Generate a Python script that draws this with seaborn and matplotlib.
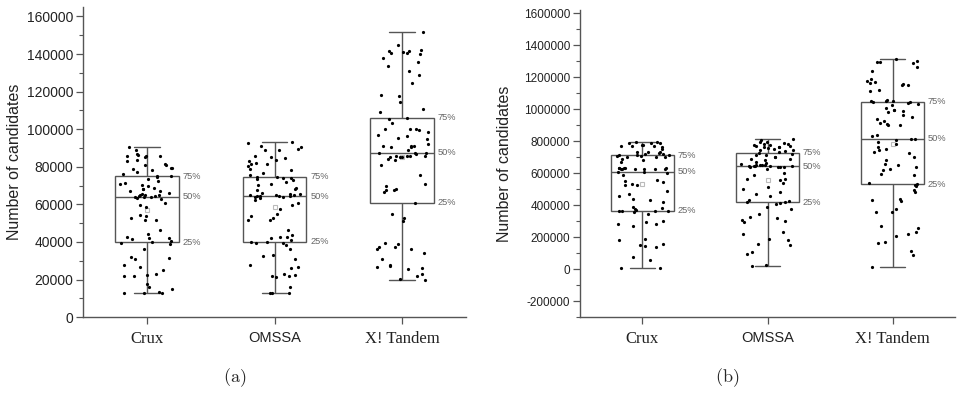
import numpy as np
import pandas as pd
import matplotlib
matplotlib.use("Agg")
import matplotlib.pyplot as plt
from matplotlib.ticker import MultipleLocator, AutoMinorLocator, FormatStrFormatter
import seaborn as sns

TOOLS = ["Crux", "OMSSA", "X! Tandem"]

# (a) number of candidates per data set
crux_a = [12900, 13000, 13100, 13300, 15100, 15800, 17500, 21800, 22000, 22300,
          22700, 25300, 26800, 28000, 30700, 31500, 32100, 36100, 38800, 39600,
          39900,
          40300, 41500, 42000, 42300, 42600, 44500, 46200, 51600, 51700, 52600,
          53700, 54600, 58700, 59900, 61000, 62700, 63400, 63900, 64000,
          64200,
          64500, 64700, 64800, 65000, 65200, 65300, 66300, 67000, 67200, 68200,
          68400, 68800, 69600, 70200, 71000, 71200, 72300, 73500, 74600,
          75000,
          75300, 76000, 77100, 78100, 79000, 79300, 79600, 80800, 81000, 81700,
          83100, 83800, 85200, 85500, 85700, 85900, 86100, 87000, 89100, 90800]

omssa_a = [12900, 13000, 13100, 15800, 21400, 21900, 22100, 22300, 23200, 25900,
           26800, 27500, 30700, 32600, 33000, 36000, 38500, 39500, 39700, 39900,
           40200,
           41300, 42200, 42400, 42700, 43900, 46200, 51500, 51700, 52800, 53700,
           55100, 57600, 59500, 61000, 62500, 63600, 64000, 64100, 64300,
           64400,
           64600, 64700, 64800, 65000, 65200, 65300, 65700, 66100, 67500, 68300,
           68500, 70400, 70600, 71900, 72800, 73500, 74000, 74200, 74500,
           74800,
           75700, 76900, 78100, 79000, 80300, 81500, 81700, 81900, 83100, 83800,
           84700, 85200, 86000, 88900, 89100, 89500, 90500, 91000, 92500, 93400]

tandem_a = [20000, 20200, 21800, 22900, 25700, 25900, 26800, 27000, 27600, 31000,
            34200, 36100, 36300, 37300, 37500, 38800, 39700, 51000, 52500, 55100,
            60800,
            66600, 67400, 67600, 68400, 69800, 71100, 75500, 80800, 83700, 83900,
            85100, 85200, 85300, 85600, 85800, 85900, 86000, 87000, 87200,
            87400,
            87600, 88800, 90500, 90800, 90900, 91000, 91100, 92300, 95000, 95500,
            96200, 96800, 98500, 99600, 99900, 100100, 100300, 103300, 105500,
            106000,
            109000, 110600, 114500, 117700, 118400, 124600, 128600, 130800, 133400, 135700,
            138000, 140200, 140300, 140800, 141100, 141400, 141600, 142300, 144600, 152000]

# (b)
crux_b = [8000, 9500, 60000, 73000, 137000, 145000, 148000, 154000, 181000, 189000,
          272000, 279000, 283000, 295000, 301000, 347000, 360000, 362000, 364000, 365000,
          366000,
          372000, 378000, 380000, 389000, 422000, 430000, 440000, 455000, 472000, 486000,
          524000, 526000, 530000, 544000, 550000, 556000, 586000, 600000, 604000,
          607000,
          624000, 625000, 626000, 627000, 628000, 628000, 629000, 630000, 631000, 632000,
          634000, 667000, 680000, 688000, 698000, 700000, 702000, 708000, 709000,
          711000,
          712000, 716000, 718000, 721000, 728000, 729000, 730000, 731000, 752000, 762000,
          768000, 770000, 772000, 776000, 778000, 785000, 787000, 789000, 794000, 796000]

omssa_b = [21000, 23000, 94000, 104000, 150000, 160000, 185000, 191000, 222000, 229000,
           295000, 301000, 304000, 320000, 324000, 347000, 378000, 390000, 409000, 416000,
           418000,
           422000, 424000, 430000, 455000, 472000, 482000, 500000, 513000, 538000, 555000,
           561000, 563000, 586000, 600000, 628000, 636000, 638000, 640000, 641000,
           642000,
           643000, 645000, 646000, 647000, 648000, 649000, 650000, 652000, 659000, 661000,
           669000, 680000, 688000, 690000, 700000, 702000, 710000, 715000, 717000,
           727000,
           729000, 738000, 744000, 746000, 752000, 754000, 763000, 764000, 765000, 767000,
           772000, 773000, 775000, 779000, 780000, 788000, 794000, 796000, 805000, 810000]

tandem_b = [14500, 87000, 114000, 165000, 167000, 206000, 218000, 229000, 254000, 268000,
            356000, 358000, 378000, 428000, 432000, 440000, 482000, 497000, 519000, 526000,
            530000,
            538000, 586000, 596000, 617000, 628000, 638000, 648000, 659000, 680000, 700000,
            725000, 731000, 746000, 752000, 763000, 783000, 794000, 805000, 812000,
            815000,
            834000, 836000, 899000, 901000, 908000, 912000, 925000, 935000, 950000, 966000,
            981000, 990000, 992000, 997000, 1006000, 1027000, 1033000, 1040000, 1045000,
            1047000,
            1049000, 1051000, 1053000, 1055000, 1112000, 1116000, 1151000, 1153000, 1157000, 1162000,
            1172000, 1174000, 1186000, 1240000, 1261000, 1286000, 1292000, 1294000, 1303000, 1313000]

LINE = "#555555"


def make_frame(groups):
    rows = []
    for tool, vals in zip(TOOLS, groups):
        for v in vals:
            rows.append((tool, v))
    return pd.DataFrame(rows, columns=["tool", "candidates"])


def draw_panel(ax, groups, ylim, major, tick_fs, label_x):
    df = make_frame(groups)
    sns.boxplot(data=df, x="tool", y="candidates", order=TOOLS, width=0.5,
                whis=(0, 100), color="white", linecolor=LINE, linewidth=1.0,
                showfliers=False, showmeans=True, capwidths=0.2,
                meanprops=dict(marker="s", markerfacecolor="none",
                               markeredgecolor="#bbbbbb", markersize=3.5,
                               markeredgewidth=0.8),
                ax=ax)
    sns.stripplot(data=df, x="tool", y="candidates", order=TOOLS, color="black",
                  size=2.3, jitter=0.21, linewidth=0, zorder=3, ax=ax)

    for i, vals in enumerate(groups):
        for p in (25, 50, 75):
            q = np.percentile(vals, p)
            ax.text(i + 0.28, q, f"{p}%", fontsize=6.7, color="#666666",
                    va="center", ha="left")

    ax.set_xlim(-0.5, 2.5)
    ax.set_ylim(*ylim)
    ax.yaxis.set_major_locator(MultipleLocator(major))
    ax.yaxis.set_minor_locator(AutoMinorLocator(2))
    ax.yaxis.set_major_formatter(FormatStrFormatter("%d"))
    ax.tick_params(axis="y", which="major", direction="out", length=5, width=0.9,
                   color=LINE, labelsize=tick_fs, pad=2, labelcolor="#222222")
    ax.tick_params(axis="y", which="minor", direction="out", length=3, width=0.8,
                   color=LINE)
    ax.tick_params(axis="x", direction="out", length=5, width=0.9, color=LINE,
                   pad=5, labelcolor="#222222")
    for lbl in ax.get_xticklabels():
        if lbl.get_text() == "OMSSA":
            lbl.set_fontfamily("Liberation Sans")
            lbl.set_fontsize(10.5)
        else:
            lbl.set_fontfamily("Liberation Serif")
            lbl.set_fontsize(12)
    sns.despine(ax=ax)
    for side in ("left", "bottom"):
        ax.spines[side].set_color(LINE)
        ax.spines[side].set_linewidth(1.0)
    ax.set_xlabel("")
    ax.set_ylabel("Number of candidates", fontsize=11.5, color="#222222")
    ax.yaxis.set_label_coords(label_x, 0.5)


sns.set_style("ticks")
plt.rcParams["font.family"] = ["Liberation Sans", "DejaVu Sans"]
plt.rcParams["axes.unicode_minus"] = False
plt.rcParams["mathtext.fontset"] = "cm"
np.random.seed(7)

fig = plt.figure(figsize=(9.57, 3.93), dpi=100)
ax_a = fig.add_axes([0.0867, 0.193, 0.4003, 0.789])
ax_b = fig.add_axes([0.606, 0.193, 0.392, 0.782])

draw_panel(ax_a, [crux_a, omssa_a, tandem_a], (0, 165000), 20000, 10, -0.16)
draw_panel(ax_b, [crux_b, omssa_b, tandem_b], (-300000, 1620000), 200000, 8.5, -0.18)

fig.text(235 / 957, 1 - 378 / 393, r"$(\mathrm{a})$", ha="center", va="center", fontsize=13)
fig.text(727 / 957, 1 - 378 / 393, r"$(\mathrm{b})$", ha="center", va="center", fontsize=13)

fig.savefig("out.png", dpi=100)
